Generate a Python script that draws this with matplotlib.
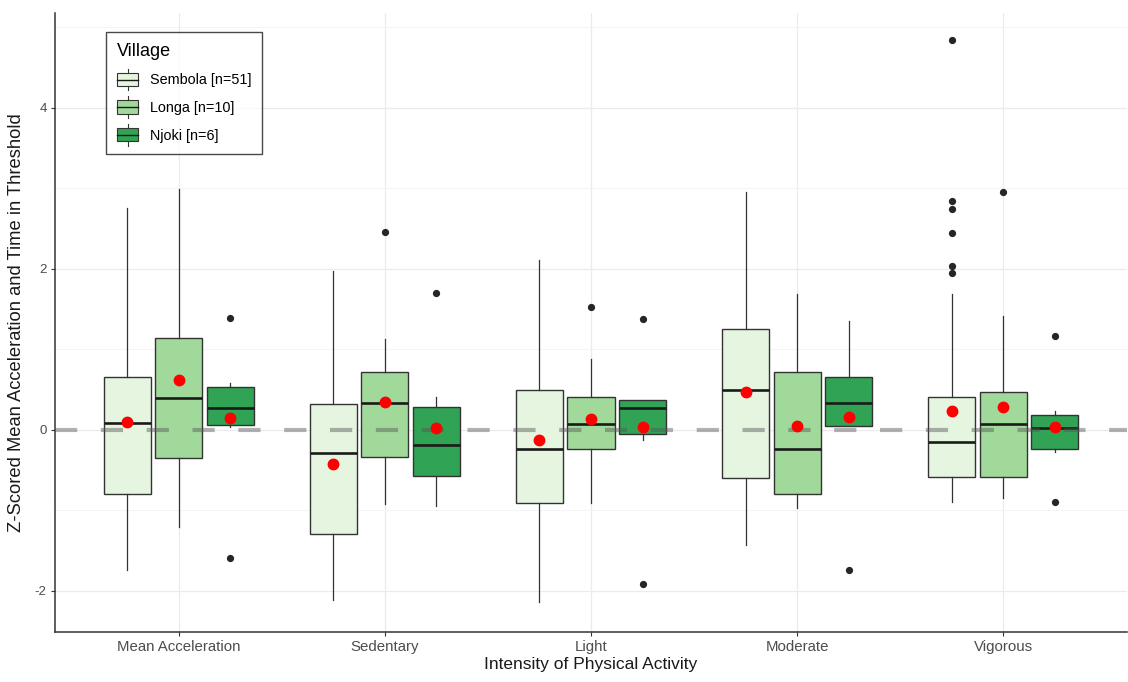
import matplotlib
matplotlib.use("Agg")
import matplotlib.pyplot as plt
from matplotlib.legend_handler import HandlerBase
from matplotlib.patches import Rectangle
from matplotlib.lines import Line2D
from matplotlib.ticker import FixedLocator

plt.rcParams['font.family'] = ['Liberation Sans', 'DejaVu Sans']

categories = ["Mean Acceleration", "Sedentary", "Light", "Moderate", "Vigorous"]
villages = ["Sembola [n=51]", "Longa [n=10]", "Njoki [n=6]"]
village_colors = ["#e5f5e0", "#a1d99b", "#31a354"]

# Box statistics per village, one value per category
sembola_whislo = [-1.74, -2.11, -2.14, -1.43, -0.90]
sembola_q1 = [-0.80, -1.29, -0.91, -0.60, -0.59]
sembola_med = [0.09, -0.29, -0.24, 0.50, -0.15]
sembola_q3 = [0.66, 0.32, 0.50, 1.25, 0.41]
sembola_whishi = [2.76, 1.97, 2.11, 2.96, 1.69]
sembola_mean = [0.10, -0.42, -0.13, 0.47, 0.24]
sembola_fliers = [[], [], [], [], [4.84, 2.84, 2.74, 2.45, 2.04, 1.95]]

longa_whislo = [-1.20, -0.92, -0.91, -0.97, -0.85]
longa_q1 = [-0.35, -0.33, -0.24, -0.80, -0.58]
longa_med = [0.40, 0.33, 0.07, -0.24, 0.08]
longa_q3 = [1.14, 0.72, 0.41, 0.72, 0.47]
longa_whishi = [2.99, 1.13, 0.88, 1.69, 1.42]
longa_mean = [0.62, 0.35, 0.14, 0.05, 0.29]
longa_fliers = [[], [2.46], [1.53], [], [2.96]]

njoki_whislo = [0.04, -0.95, -0.12, 0.05, -0.28]
njoki_q1 = [0.06, -0.57, -0.05, 0.05, -0.24]
njoki_med = [0.27, -0.19, 0.27, 0.34, 0.03]
njoki_q3 = [0.53, 0.29, 0.37, 0.66, 0.18]
njoki_whishi = [0.58, 0.41, 0.37, 1.35, 0.23]
njoki_mean = [0.15, 0.02, 0.04, 0.16, 0.04]
njoki_fliers = [[1.39, -1.59], [1.70], [1.38, -1.91], [-1.74], [1.17, -0.90]]

yticks = [-2, 0, 2, 4]

groups = [
    (sembola_whislo, sembola_q1, sembola_med, sembola_q3, sembola_whishi, sembola_mean, sembola_fliers),
    (longa_whislo, longa_q1, longa_med, longa_q3, longa_whishi, longa_mean, longa_fliers),
    (njoki_whislo, njoki_q1, njoki_med, njoki_q3, njoki_whishi, njoki_mean, njoki_fliers),
]

fig = plt.figure(figsize=(11.28, 6.82), dpi=100)
ax = fig.add_axes([55 / 1128, 1 - 632 / 682, 1072 / 1128, 619 / 682])

edge = "#333333"
offsets = [-0.25, 0.0, 0.25]
box_w = 0.228
for gi, (wl, q1, med, q3, wh, mn, fl) in enumerate(groups):
    stats = []
    for ci in range(len(categories)):
        stats.append(dict(whislo=wl[ci], q1=q1[ci], med=med[ci], q3=q3[ci],
                          whishi=wh[ci], fliers=fl[ci], mean=mn[ci]))
    pos = [ci + 1 + offsets[gi] for ci in range(len(categories))]
    ax.bxp(stats, positions=pos, widths=box_w, patch_artist=True, showcaps=False,
           boxprops=dict(facecolor=village_colors[gi], edgecolor=edge, linewidth=1.0),
           whiskerprops=dict(color=edge, linewidth=0.9),
           medianprops=dict(color="#1a1a1a", linewidth=1.9),
           flierprops=dict(marker="o", markerfacecolor="#262626", markeredgecolor="#262626",
                           markersize=4.2),
           showmeans=False, zorder=3)
    ax.plot(pos, mn, linestyle="none", marker="o", color="#ff0000", markersize=7.5, zorder=6)

ax.axhline(0, color="#555555", alpha=0.45, linewidth=3.0,
           linestyle=(0, (16.0 / 3.0, 17.0 / 3.0)), zorder=5)

ax.set_xlim(0.4, 5.6)
ax.set_ylim(-2.51, 5.18)
ax.set_xticks(range(1, len(categories) + 1))
ax.set_xticklabels(categories)
ax.set_yticks(yticks)
ax.set_yticklabels([str(t) for t in yticks])
ax.yaxis.set_minor_locator(FixedLocator([-1, 1, 3, 5]))

ax.grid(True, which="major", color="#ebebeb", linewidth=0.9, zorder=0)
ax.grid(True, which="minor", axis="y", color="#f3f3f3", linewidth=0.6, zorder=0)
ax.set_axisbelow(True)
for s in ["top", "right"]:
    ax.spines[s].set_visible(False)
for s in ["left", "bottom"]:
    ax.spines[s].set_color("#333333")
    ax.spines[s].set_linewidth(1.1)
ax.tick_params(axis="both", which="major", length=3, color="#333333", width=0.8,
               labelcolor="#4d4d4d")
ax.tick_params(axis="y", which="minor", length=0)
ax.tick_params(axis="x", labelsize=10.8, pad=3)
ax.tick_params(axis="y", labelsize=9.5, pad=3)

ax.set_xlabel("Intensity of Physical Activity", fontsize=12.5, color="#1a1a1a", labelpad=2)
ax.set_ylabel("Z-Scored Mean Acceleration and Time in Threshold", fontsize=13.2,
              color="#1a1a1a", labelpad=7)


class BoxHandler(HandlerBase):
    def __init__(self, color):
        super().__init__()
        self.color = color

    def create_artists(self, legend, orig_handle, xdescent, ydescent, width, height,
                       fontsize, trans):
        cx = width / 2 - xdescent
        bw = width * 0.95
        bh = height * 1.0
        by = -ydescent + (height - bh) / 2
        rect = Rectangle((cx - bw / 2, by), bw, bh, facecolor=self.color,
                         edgecolor=edge, linewidth=0.8, transform=trans)
        med = Line2D([cx - bw / 2, cx + bw / 2], [by + bh / 2] * 2, color="#1a1a1a",
                     linewidth=1.0, transform=trans)
        w1 = Line2D([cx, cx], [by + bh, by + bh + height * 0.3], color=edge,
                    linewidth=0.8, transform=trans)
        w2 = Line2D([cx, cx], [by, by - height * 0.3], color=edge,
                    linewidth=0.8, transform=trans)
        return [rect, med, w1, w2]


handles = [Rectangle((0, 0), 1, 1, facecolor=c) for c in village_colors]
leg = ax.legend(handles, villages, title="Village", loc="upper left",
                bbox_to_anchor=(51 / 1072, (632 - 32) / 619), borderaxespad=0,
                fontsize=10.4, title_fontsize=13, frameon=True, fancybox=False,
                edgecolor="#1a1a1a", handlelength=1.5, handleheight=1.05,
                labelspacing=0.9, borderpad=0.75, handletextpad=0.8,
                handler_map={handles[i]: BoxHandler(village_colors[i]) for i in range(3)})
leg.get_frame().set_linewidth(1.0)
leg._legend_box.align = "left"
leg.set_zorder(10)

fig.savefig("out.png", dpi=100)
